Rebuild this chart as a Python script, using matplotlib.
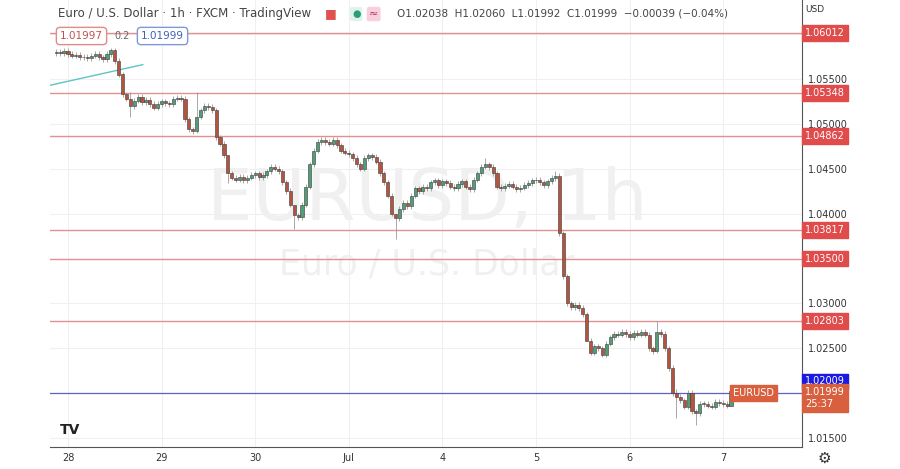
import numpy as np
import matplotlib.pyplot as plt

# hourly closes, starting 3 hours before 28 Jun 00:00
closes = [
    1.0580, 1.0579, 1.0581,
    # 28
    1.0578, 1.0576, 1.0577, 1.0574, 1.0575, 1.0573, 1.0576, 1.0578, 1.0574, 1.0572, 1.0578, 1.0582,
    1.0570, 1.0555, 1.0533, 1.0528, 1.0520, 1.0526, 1.0530, 1.0524, 1.0527, 1.0522, 1.0518, 1.0522,
    # 29
    1.0525, 1.0523, 1.0522, 1.0528, 1.0529, 1.0528, 1.0505, 1.0494, 1.0492, 1.0508, 1.0515, 1.0520,
    1.0519, 1.0515, 1.0485, 1.0478, 1.0465, 1.0445, 1.0440, 1.0438, 1.0441, 1.0437, 1.0440, 1.0443,
    # 30
    1.0445, 1.0441, 1.0443, 1.0447, 1.0452, 1.0450, 1.0447, 1.0435, 1.0425, 1.0410, 1.0398, 1.0396,
    1.0410, 1.0430, 1.0455, 1.0470, 1.0480, 1.0482, 1.0480, 1.0478, 1.0482, 1.0476, 1.0470, 1.0468,
    # Jul 1
    1.0466, 1.0462, 1.0455, 1.0450, 1.0462, 1.0465, 1.0463, 1.0458, 1.0445, 1.0435, 1.0420, 1.0400,
    1.0395, 1.0405, 1.0412, 1.0408, 1.0420, 1.0428, 1.0425, 1.0430, 1.0428, 1.0435, 1.0437, 1.0432,
    # Jul 4
    1.0436, 1.0434, 1.0430, 1.0428, 1.0433, 1.0436, 1.0430, 1.0427, 1.0438, 1.0445, 1.0452, 1.0455,
    1.0452, 1.0445, 1.0430, 1.0428, 1.0431, 1.0433, 1.0430, 1.0427, 1.0429, 1.0432, 1.0434, 1.0437,
    # Jul 5
    1.0438, 1.0435, 1.0432, 1.0436, 1.0440, 1.0442, 1.0378, 1.0330, 1.0300, 1.0296, 1.0298, 1.0295,
    1.0288, 1.0258, 1.0245, 1.0252, 1.0250, 1.0243, 1.0255, 1.0262, 1.0266, 1.0265, 1.0268, 1.0266,
    # Jul 6
    1.0262, 1.0267, 1.0265, 1.0268, 1.0265, 1.0250, 1.0247, 1.0268, 1.0266, 1.0250, 1.0228, 1.0200,
    1.0196, 1.0192, 1.0185, 1.0200, 1.0180, 1.0178, 1.0188, 1.0188, 1.0186, 1.0185, 1.0190, 1.0189,
    # Jul 7
    1.0188, 1.0186, 1.0202, 1.0200,
]
first_open = 1.0579
# notable wicks: hour -> (high, low)
wicks = {16: (1.0535, 1.0508), 33: (1.0535, 1.0490), 41: (1.0447, 1.0434),
         58: (1.0401, 1.0383), 84: (1.0400, 1.0372), 107: (1.0462, 1.0450),
         125: (1.0447, 1.0436), 133: (1.0290, 1.0278), 151: (1.0280, 1.0245),
         161: (1.0182, 1.0165), 170: (1.0208, 1.0186), 156: (1.0205, 1.0172)}
levels = [1.06012, 1.05348, 1.04862, 1.03817, 1.03500, 1.02803]
tick_prices = [1.055, 1.050, 1.045, 1.040, 1.030, 1.025, 1.015]
day_labels = ['28', '29', '30', 'Jul', '4', '5', '6', '7']
trend_x = [-4.6, 19.2]
trend_y = [1.0543, 1.0566]

hours = np.arange(len(closes)) - 3
opens = [first_open] + closes[:-1]

up_col, dn_col = '#4f9e78', '#b4543f'
fig = plt.figure(figsize=(9, 4.69), dpi=100)
ax = fig.add_axes([50 / 900, 22 / 469, 752 / 900, 447 / 469])
ax.set_xlim(-4.6, 188.2)
ax.set_ylim(1.0140, 1.0638)

for p in [1.015, 1.020, 1.025, 1.030, 1.035, 1.040, 1.045, 1.050, 1.055, 1.060]:
    ax.axhline(p, color='#f0f0f0', lw=0.8, zorder=0)
for i in range(len(day_labels)):
    ax.axvline(i * 24, color='#f0f0f0', lw=0.8, zorder=0)

ax.text(92, 1.0415, 'EURUSD, 1h', fontsize=52, color='#f0f0f0', ha='center', va='center', zorder=0)
ax.text(92, 1.0343, 'Euro / U.S. Dollar', fontsize=25, color='#f0f0f0', ha='center', va='center', zorder=0)

for lv in levels:
    ax.axhline(lv, color='#e39090', lw=1.0, zorder=1)
ax.axhline(1.01999, color='#6060c8', lw=0.9, zorder=1)
ax.plot(trend_x, trend_y, color='#5fc4c4', lw=1.0, zorder=1)

for h, o, c in zip(hours, opens, closes):
    hi, lo = wicks.get(h, (max(o, c) + 0.0003, min(o, c) - 0.0003))
    col = up_col if c >= o else dn_col
    ax.vlines(h, lo, hi, color='#9a9a9a', lw=0.6, zorder=2)
    ax.bar(h, max(abs(c - o), 0.00008), bottom=min(o, c), width=0.8, color=col,
           edgecolor='#3a3a3a', lw=0.4, zorder=3)

for s in ['top', 'left']:
    ax.spines[s].set_visible(False)
ax.spines['right'].set_color('#555555')
ax.spines['bottom'].set_color('#555555')
ax.yaxis.tick_right()
ax.set_yticks(tick_prices)
ax.set_yticklabels(['%.5f' % p for p in tick_prices], fontsize=7, color='#333333')
ax.set_xticks(np.arange(len(day_labels)) * 24)
ax.set_xticklabels(day_labels, fontsize=7, color='#333333')
ax.tick_params(length=0, pad=4)

def price_tag(y, text, fc, tc='white'):
    ax.text(1.004, y, text, transform=ax.get_yaxis_transform(), fontsize=7, color=tc,
            va='center', ha='left', bbox=dict(boxstyle='square,pad=0.3', fc=fc, ec=fc))

for lv in levels:
    price_tag(lv, '%.5f' % lv, '#e04b4b')
price_tag(1.0213, '1.02009', '#1a1ae0')
price_tag(1.01945, '1.01999\n25:37', '#d9603f')
ax.text(170.5, 1.01999, 'EURUSD', fontsize=7, color='white', va='center', ha='left',
        bbox=dict(boxstyle='square,pad=0.3', fc='#d9603f', ec='#d9603f'))

fig.text(805 / 900, 1 - 10 / 469, 'USD', fontsize=6.5, color='#333333', va='center')
fig.text(58 / 900, 1 - 14 / 469, 'Euro / U.S. Dollar · 1h · FXCM · TradingView', fontsize=8.5,
         color='#444444', va='center')
fig.text(397 / 900, 1 - 14 / 469, 'O1.02038  H1.02060  L1.01992  C1.01999  −0.00039 (−0.04%)',
         fontsize=7.5, color='#444444', va='center')
fig.text(325 / 900, 1 - 14 / 469, '■', fontsize=9, color='#e05050', va='center')
fig.text(352 / 900, 1 - 14 / 469, '●', fontsize=7, color='#2a9d7a', va='center',
         bbox=dict(boxstyle='round,pad=0.2', fc='#dff2ec', ec='none'))
fig.text(369 / 900, 1 - 14 / 469, '≈', fontsize=8, color='#c03060', va='center',
         bbox=dict(boxstyle='round,pad=0.2', fc='#f7d0dc', ec='none'))
fig.text(60 / 900, 1 - 36 / 469, '1.01997', fontsize=7.5, color='#c05050', va='center',
         bbox=dict(boxstyle='round,pad=0.35', fc='white', ec='#e08a8a'))
fig.text(114 / 900, 1 - 36 / 469, '0.2', fontsize=7, color='#666666', va='center')
fig.text(141 / 900, 1 - 36 / 469, '1.01999', fontsize=7.5, color='#4060b0', va='center',
         bbox=dict(boxstyle='round,pad=0.35', fc='white', ec='#8098d8'))
fig.text(60 / 900, 1 - 430 / 469, 'TV', fontsize=10, fontweight='bold', color='#222222', va='center')
fig.text(818 / 900, 1 - 458 / 469, '⚙', fontsize=11, color='#333333', va='center')

fig.savefig('out.png')
